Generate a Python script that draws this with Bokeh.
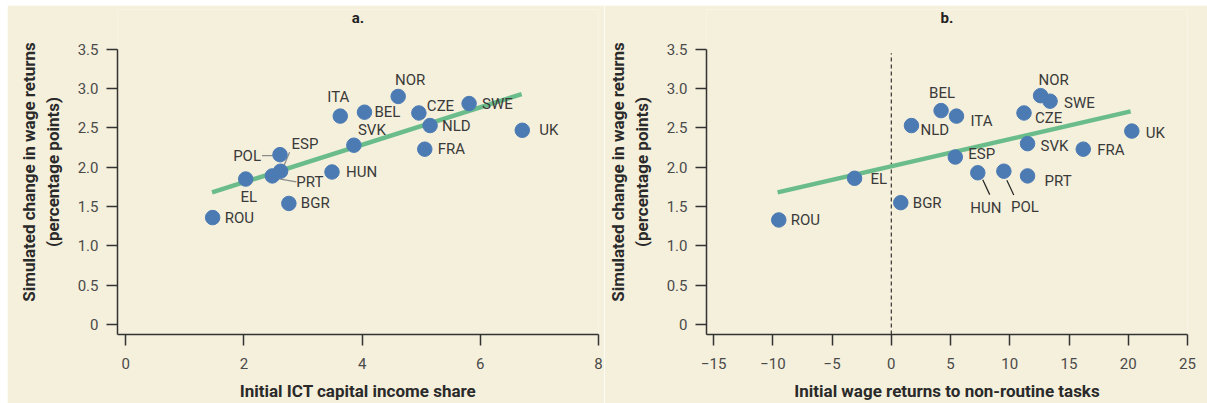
from bokeh.plotting import figure
from bokeh.layouts import row, column
from bokeh.models import ColumnDataSource, FixedTicker, Range1d, Spacer, Label
from bokeh.embed import file_html
from bokeh.resources import INLINE
from bokeh.core.properties import value

# ---------------- data ----------------
countries = ["ROU", "EL", "PRT", "ESP", "POL", "BGR", "HUN", "SVK",
             "ITA", "BEL", "NOR", "CZE", "NLD", "FRA", "SWE", "UK"]

# panel a: initial ICT capital income share vs simulated change
ict_share = [1.47, 2.03, 2.48, 2.62, 2.61, 2.76, 3.49, 3.86,
             3.63, 4.04, 4.61, 4.96, 5.15, 5.06, 5.81, 6.71]
wage_change_a = [1.36, 1.85, 1.89, 1.95, 2.16, 1.54, 1.94, 2.28,
                 2.65, 2.70, 2.90, 2.69, 2.53, 2.23, 2.81, 2.47]
fit_a_x = [1.46, 6.70]
fit_a_y = [1.68, 2.93]

# panel b: initial wage returns to non-routine tasks vs simulated change
nonroutine_returns = [-9.5, -3.1, 11.5, 5.4, 9.5, 0.8, 7.3, 11.5,
                      5.5, 4.2, 12.6, 11.2, 1.7, 16.2, 13.4, 20.3]
wage_change_b = [1.33, 1.86, 1.89, 2.13, 1.95, 1.55, 1.93, 2.30,
                 2.65, 2.72, 2.91, 2.69, 2.53, 2.23, 2.84, 2.46]
fit_b_x = [-9.6, 20.2]
fit_b_y = [1.68, 2.71]

y_ticks = [0, 0.5, 1.0, 1.5, 2.0, 2.5, 3.0, 3.5]
y_tick_labels = ["0", "0.5", "1.0", "1.5", "2.0", "2.5", "3.0", "3.5"]
x_ticks_a = [0, 2, 4, 6, 8]
x_tick_labels_a = ["0", "2", "4", "6", "8"]
x_ticks_b = [-15, -10, -5, 0, 5, 10, 15, 20, 25]
x_tick_labels_b = ["\u221215", "\u221210", "\u22125", "0", "5", "10", "15", "20", "25"]
zero_line_top = 3.45   # the dashed x = 0 reference line ends just below 3.5

# ---------------- styling / placement ----------------
FONT = "Roboto"
BG = "#f5f0dc"
DOT = "#4c7bb4"
FIT = "#6abd8b"
TXT = "#3a3a3a"
AX = "#333333"

# label offsets in screen pixels from the dot centre: (dx, dy, align)
LAB_A = {
    "NOR": (12, -16, "center"), "ITA": (-2, -19, "center"), "BEL": (10, 0, "left"),
    "CZE": (8, -7, "left"), "SWE": (13, 0, "left"), "NLD": (12, 0, "left"),
    "UK": (17, 0, "left"), "SVK": (18, -15, "center"), "FRA": (13, 0, "left"),
    "HUN": (14, 0, "left"), "EL": (3, 18, "center"), "BGR": (12, 0, "left"),
    "ROU": (12, 0, "left"), "POL": (-19, 1, "right"), "ESP": (11, -27, "left"),
    "PRT": (24, 6, "left"),
}
LEAD_A = {"POL": (-18, 1, 0, 1), "ESP": (9, -19, 1, 0), "PRT": (1, 2, 24, 6)}

LAB_B = {
    "NOR": (13, -16, "center"), "SWE": (14, 2, "left"), "BEL": (1, -18, "center"),
    "ITA": (14, 5, "left"), "NLD": (9, 4, "left"), "CZE": (11, 5, "left"),
    "UK": (14, 2, "left"), "SVK": (13, 2, "left"), "FRA": (14, 1, "left"),
    "ESP": (13, -3, "left"), "EL": (16, 1, "left"), "PRT": (17, 5, "left"),
    "BGR": (12, 0, "left"), "ROU": (12, 0, "left"), "HUN": (8, 35, "center"),
    "POL": (21, 36, "center"),
}
LEAD_B = {"HUN": (5, 7, 12, 22), "POL": (3, 9, 10, 24)}

HEIGHT = 398
AXIS_TOP = 44     # px from the figure top to the 3.5 tick
BT, BB = 4, 67    # frame extends above 3.5 so the panel title can sit inside it
Y_START = -0.126
Y_END = 3.5


def make_panel(title, xs, ys, fx, fy, xr, width, frame_w, bl, br,
               xticks, xlabels, xtitle, labs, leads, lead_color, zero_line):
    axis_h = HEIGHT - AXIS_TOP - BB
    uy = (Y_END - Y_START) / axis_h
    ux = (xr[1] - xr[0]) / frame_w
    y_top = Y_END + (AXIS_TOP - BT) * uy
    p = figure(width=width, height=HEIGHT, output_backend="svg",
               toolbar_location=None, x_range=Range1d(*xr),
               y_range=Range1d(Y_START, y_top),
               min_border_left=bl, min_border_right=br,
               min_border_top=BT, min_border_bottom=BB,
               background_fill_color=BG, border_fill_color=BG,
               outline_line_color=None)
    p.grid.visible = False

    for ax in (p.xaxis, p.yaxis):
        ax.axis_line_color = AX
        ax.axis_line_width = 1.5
        ax.major_tick_line_color = AX
        ax.major_tick_line_width = 1.5
        ax.major_tick_in = 0
        ax.major_tick_out = 11
        ax.minor_tick_line_color = None
        ax.major_label_text_font = FONT
        ax.major_label_text_font_size = "15px"
        ax.major_label_text_color = "#4a4a4a"
        ax.axis_label_text_font = FONT
        ax.axis_label_text_font_size = "17px"
        ax.axis_label_text_font_style = "bold"
        ax.axis_label_text_color = "#2a2a2a"

    p.xaxis.ticker = FixedTicker(ticks=xticks)
    p.xaxis.major_label_overrides = {t: l for t, l in zip(xticks, xlabels)}
    p.xaxis.axis_label = xtitle
    p.xaxis.major_label_standoff = 12
    p.xaxis.axis_label_standoff = 9

    p.yaxis.ticker = FixedTicker(ticks=y_ticks)
    p.yaxis.bounds = (Y_START, Y_END)
    p.yaxis.major_label_overrides = {t: l for t, l in zip(y_ticks, y_tick_labels)}
    p.yaxis.axis_label = "Simulated change in wage returns\n(percentage points)"
    p.yaxis.major_label_standoff = 8
    p.yaxis.axis_label_standoff = 12

    # panel title, a fixed pixel distance above the 3.5 tick
    p.add_layout(Label(x=(xr[0] + xr[1]) / 2, y=Y_END, y_offset=31, text=title,
                       text_align="center", text_baseline="middle",
                       text_font=FONT, text_font_size="15px",
                       text_font_style="bold", text_color="#222222"))

    if zero_line:
        p.segment([0], [Y_START], [0], [zero_line_top], line_color=AX,
                  line_width=1.2, line_dash="4 3")

    # leader lines: pixel offsets from the dot converted to data units
    idx = {c: i for i, c in enumerate(countries)}
    x0, y0, x1, y1 = [], [], [], []
    for c, (a, b, cc, d) in leads.items():
        i = idx[c]
        x0.append(xs[i] + a * ux); y0.append(ys[i] - b * uy)
        x1.append(xs[i] + cc * ux); y1.append(ys[i] - d * uy)
    if leads:
        p.segment(x0, y0, x1, y1, line_color=lead_color, line_width=1.2)

    p.line(fx, fy, line_color=FIT, line_width=4.5)
    p.scatter(xs, ys, size=14.5, fill_color=DOT, line_color=DOT)

    for align in ("left", "center", "right"):
        sel = [c for c in countries if labs[c][2] == align]
        if not sel:
            continue
        src = ColumnDataSource(dict(
            x=[xs[idx[c]] for c in sel], y=[ys[idx[c]] for c in sel], t=sel,
            dx=[labs[c][0] for c in sel], dy=[labs[c][1] for c in sel]))
        p.text("x", "y", text="t", x_offset="dx", y_offset="dy", source=src,
               text_align=align, text_baseline="middle",
               text_font=value(FONT), text_font_size="15px", text_color=TXT)
    return p


pa = make_panel("a.", ict_share, wage_change_a, fit_a_x, fit_a_y,
                (-0.14, 8), 597, 481, 110, 6,
                x_ticks_a, x_tick_labels_a, "Initial ICT capital income share",
                LAB_A, LEAD_A, "#8a8a8a", False)
pb = make_panel("b.", nonroutine_returns, wage_change_b, fit_b_x, fit_b_y,
                (-15.6, 25), 603, 485, 98, 20,
                x_ticks_b, x_tick_labels_b, "Initial wage returns to non-routine tasks",
                LAB_B, LEAD_B, "#222222", True)

layout = column(Spacer(height=5), row(Spacer(width=7), pa, pb))
open("out.html", "w").write(file_html(layout, INLINE))
